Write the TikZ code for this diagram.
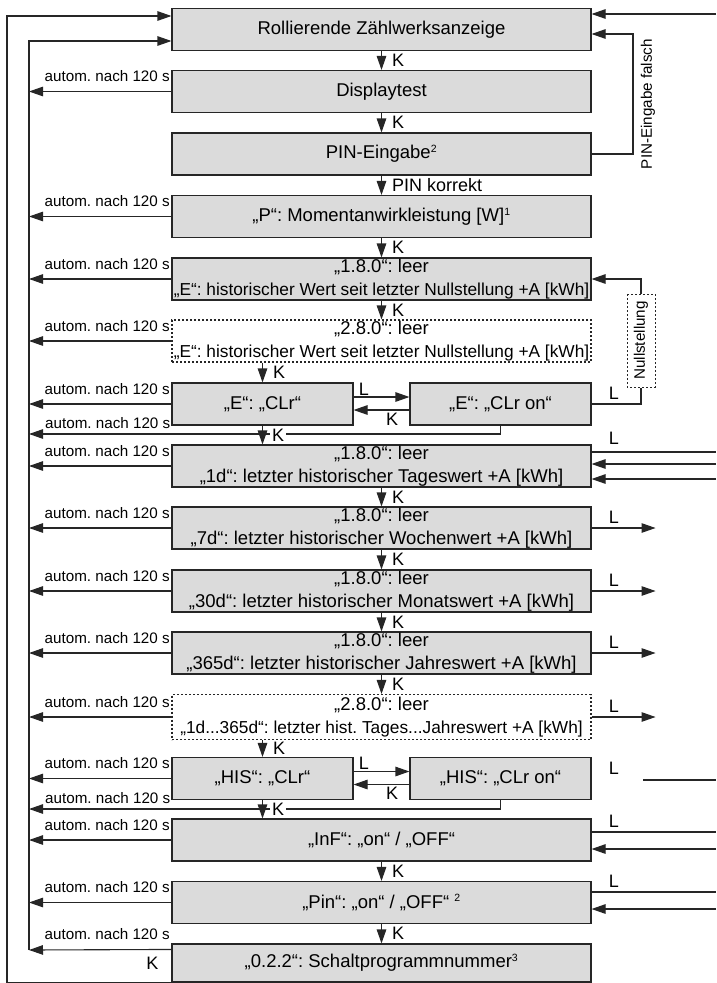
\documentclass[tikz,border=0pt]{standalone}
\usepackage{fontspec}
\setmainfont{Liberation Sans}
\usetikzlibrary{arrows.meta,positioning}
\frenchspacing
\newcommand{\zeilefit}{\fontsize{17.3}{22.5}\selectfont}
\newcommand{\hoch}[1]{\textsuperscript{\fontsize{10.5}{10.5}\selectfont #1}}

\begin{document}
\begin{tikzpicture}[x=1pt,y=-1pt,>={Triangle[length=14pt,width=9.5pt]},
    box/.style={draw=black!85,fill=black!14,line width=1.1pt,minimum width=419pt,
      minimum height=42pt,inner sep=0pt,align=center,font=\fontsize{18.5}{22.5}\selectfont},
    halfbox/.style={box,minimum width=181pt},
    dotbox/.style={box,fill=white,dash pattern=on 2pt off 2pt},
    linie/.style={draw=black!85,line width=1.1pt},
    lbl/.style={font=\fontsize{15.2}{18}\selectfont,inner sep=0pt},
    klbl/.style={font=\fontsize{18}{20}\selectfont,inner sep=1pt},
    lmark/.style={klbl,anchor=base west,xshift=16pt,yshift=5pt}]
  \useasboundingbox (0,0) rectangle (716,983);
  % boxes
  \node[box] (rz) at (381.5,29.5) {Rollierende Zählwerksanzeige};
  \node[box] (dt) at (381.5,91.5) {Displaytest};
  \node[box] (pin) at (381.5,154) {PIN-Eingabe\hoch{2}};
  \node[box] (pm) at (381.5,216.5) {„P“: Momentanwirkleistung [W]\hoch{1}};
  \node[box] (e18) at (381.5,279) {„1.8.0“: leer\\{\zeilefit „E“: historischer Wert seit letzter Nullstellung +A [kWh]}};
  \node[dotbox] (e28) at (381.5,341) {„2.8.0“: leer\\{\zeilefit „E“: historischer Wert seit letzter Nullstellung +A [kWh]}};
  \node[halfbox] (eclr) at (262.5,404) {„E“: „CLr“};
  \node[halfbox] (eclron) at (500.5,404) {„E“: „CLr on“};
  \node[box] (d1) at (381.5,466) {„1.8.0“: leer\\„1d“: letzter historischer Tageswert +A [kWh]};
  \node[box] (d7) at (381.5,528) {„1.8.0“: leer\\„7d“: letzter historischer Wochenwert +A [kWh]};
  \node[box] (d30) at (381.5,591) {„1.8.0“: leer\\„30d“: letzter historischer Monatswert +A [kWh]};
  \node[box] (d365) at (381.5,653) {„1.8.0“: leer\\„365d“: letzter historischer Jahreswert +A [kWh]};
  \node[dotbox,minimum height=45pt] (dall) at (381.5,717) {„2.8.0“: leer\\{\zeilefit „1d...365d“: letzter hist. Tages...Jahreswert +A [kWh]}};
  \node[halfbox] (hclr) at (262.5,778.5) {„HIS“: „CLr“};
  \node[halfbox] (hclron) at (500.5,778.5) {„HIS“: „CLr on“};
  \node[box] (inf) at (381.5,840) {„InF“: „on“ / „OFF“};
  \node[box] (pon) at (381.5,902.5) {„Pin“: „on“ / „OFF“ \hoch{2}};
  \node[box,minimum height=38pt] (prog) at (381.5,963) {„0.2.2“: Schaltprogrammnummer\hoch{3}};
  \node[lbl,draw=black!85,line width=1pt,dash pattern=on 2pt off 2pt,rotate=90,
    minimum width=93pt,minimum height=28pt] (null) at (641,340.5) {Nullstellung};
  \coordinate (il) at (29,41);
  \coordinate (ilb) at (29,950);
  \coordinate (ol) at (7,16);
  % K downwards
  \foreach \o/\u in {rz/dt,dt/pin,pm/e18,e18/e28,d1/d7,d7/d30,d30/d365,d365/dall,inf/pon,pon/prog}
    \draw[linie,->] (\o.south) -- (\u.north) node[klbl,midway,right=9pt] {K};
  \draw[linie,->] (pin.south) -- (pm.north) node[klbl,midway,right=9pt] {PIN korrekt};
  \draw[linie,->] (e28.south -| eclr.north) -- (eclr.north) node[klbl,midway,right=9pt] {K};
  \draw[linie,->] (dall.south -| hclr.north) -- (hclr.north) node[klbl,midway,right=9pt] {K};
  % autom. nach 120 s
  \foreach \nd in {dt,pm,e18,e28,eclr,d1,d7,d30,d365,dall,hclr,inf,pon}{
    \draw[linie,->] (\nd.west) -- (\nd.west -| il);
    \node[lbl,anchor=base east] at ([xshift=-1.5pt,yshift=10pt]\nd.west) {autom. nach 120 s};
  }
  \coordinate (ea) at (29,434);
  \coordinate (ha) at (29,809);
  \draw[linie,->] (eclron.south) |- (ea);
  \draw[linie,->] (hclron.south) |- (ha);
  \node[lbl,anchor=base east] at (170.5,428) {autom. nach 120 s};
  \node[lbl,anchor=base east] at (170.5,803) {autom. nach 120 s};
  \draw[linie,->] (eclr.south) -- (eclr.south |- d1.north) node[klbl,midway,right=7pt,fill=white,inner sep=2pt] {K};
  \draw[linie,->] (hclr.south) -- (hclr.south |- inf.north) node[klbl,midway,right=7pt,fill=white,inner sep=2pt] {K};
  \draw[linie,->] ([yshift=-6pt]prog.north west) -- (ilb);
  \node[lbl,anchor=base east] at ([xshift=-1.5pt,yshift=4pt]prog.north west) {autom. nach 120 s};
  % CLr pairs
  \foreach \li/\re in {eclr/eclron,hclr/hclron}{
    \draw[linie,->] ([yshift=7pt]\li.east) -- ([yshift=7pt]\re.west);
    \draw[linie,->] ([yshift=-6pt]\re.west) -- ([yshift=-6pt]\li.east);
    \node[klbl,anchor=base west] at ([xshift=4pt,yshift=9pt]\li.east) {L};
    \node[klbl,anchor=base east] at ([xshift=-10pt,yshift=-21pt]\re.west) {K};
  }
  % back to the top
  \draw[linie,->] (ilb) -- (il) -- (il -| rz.west);
  \draw[linie,->] (prog.south west) -| (ol) -- (ol -| rz.west);
  \node[klbl] at ([xshift=-19pt]prog.west) {K};
  % right side
  \coordinate (r1) at (716,14);
  \coordinate (pf) at (633,34);
  \draw[linie,->] (r1) -- (r1 -| rz.east);
  \draw[linie,->] (pin.east) -| (pf) -- (pf -| rz.east);
  \node[lbl,rotate=90] at (648,104) {PIN-Eingabe falsch};
  \draw[linie] (eclron.east) -| (null.west);
  \draw[linie,->] (null.east) |- (e18.east);
  \node[lmark] at (eclron.east) {L};
  \coordinate (d1a) at (716,452);
  \coordinate (d1b) at (716,464);
  \coordinate (d1c) at (716,479);
  \draw[linie] (d1a -| d1.east) -- (d1a);
  \draw[linie,->] (d1b) -- (d1b -| d1.east);
  \draw[linie,->] (d1c) -- (d1c -| d1.east);
  \node[lmark,yshift=3pt] at (d1a -| d1.east) {L};
  \foreach \nd in {d7,d30,d365,dall}{
    \coordinate (\nd-o) at ([xshift=64pt]\nd.east);
    \draw[linie,->] (\nd.east) -- (\nd-o);
    \node[lmark] at (\nd.east) {L};
  }
  \coordinate (hl) at (643,780);
  \coordinate (hr) at (716,780);
  \draw[linie] (hl) -- (hr);
  \node[lmark,yshift=-1pt] at (hclron.east) {L};
  \foreach \nd/\a/\e in {inf/832/849,pon/892/909}{
    \coordinate (\nd-a) at (716,\a);
    \coordinate (\nd-e) at (716,\e);
    \draw[linie] (\nd-a -| \nd.east) -- (\nd-a);
    \draw[linie,->] (\nd-e) -- (\nd-e -| \nd.east);
    \node[lmark] at (\nd-a -| \nd.east) {L};
  }
\end{tikzpicture}
\end{document}
